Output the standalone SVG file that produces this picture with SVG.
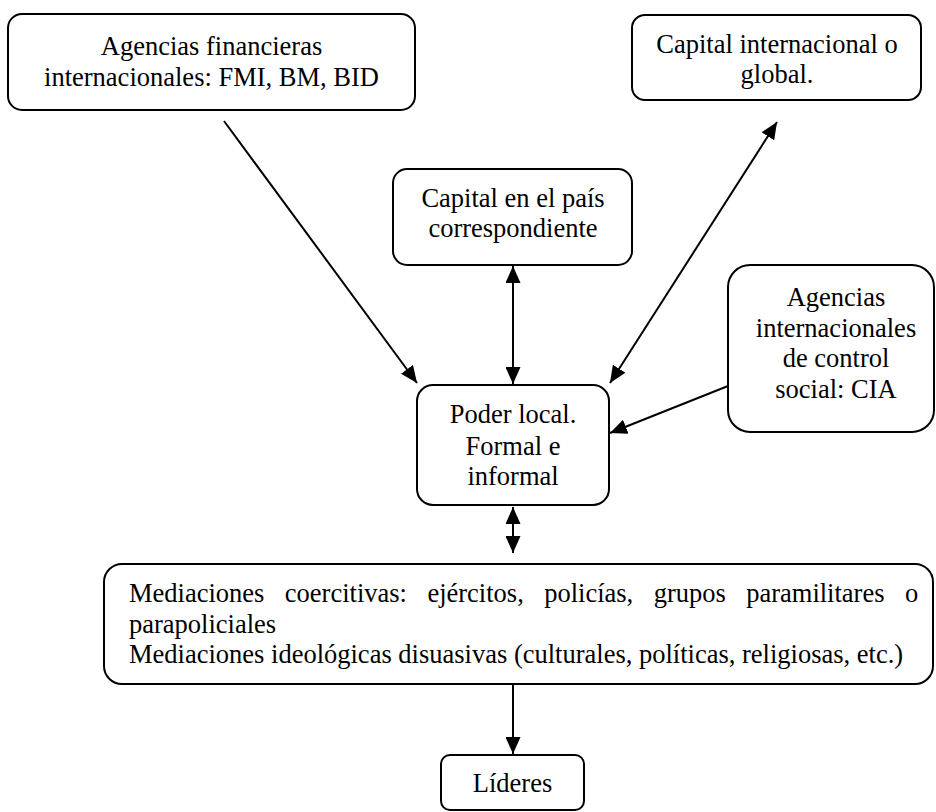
<svg xmlns="http://www.w3.org/2000/svg" width="936" height="812" viewBox="0 0 936 812">
<style>
.box{fill:#fff;stroke:#000;stroke-width:2}
.t{font-family:"Liberation Serif","Times New Roman",serif;font-size:26.5px;fill:#000}
.c{text-anchor:middle}
.ln{stroke:#000;stroke-width:2;fill:none}
</style>
<defs>
<marker id="ah" viewBox="0 0 17 15" refX="17" refY="7.5" markerWidth="17" markerHeight="15" markerUnits="userSpaceOnUse" orient="auto-start-reverse">
<path d="M0,0 L17,7.5 L0,15 Z" fill="#000"/>
</marker>
</defs>
<rect width="936" height="812" fill="#fff"/>
<g id="connectors">
<line class="ln" x1="224" y1="121" x2="417" y2="383" marker-end="url(#ah)"/>
<line class="ln" x1="610" y1="383" x2="777" y2="122" marker-start="url(#ah)" marker-end="url(#ah)"/>
<line class="ln" x1="513" y1="266" x2="513" y2="384" marker-start="url(#ah)" marker-end="url(#ah)"/>
<line class="ln" x1="728" y1="386" x2="610" y2="433" marker-end="url(#ah)"/>
<line class="ln" x1="513" y1="507" x2="513" y2="553" marker-start="url(#ah)" marker-end="url(#ah)"/>
<line class="ln" x1="513" y1="684" x2="513" y2="754" marker-end="url(#ah)"/>
</g>
<g id="agencias-financieras">
<rect class="box" x="8" y="14" width="407" height="96" rx="14"/>
<text class="t c" x="211.5" y="55">Agencias financieras</text>
<text class="t c" x="211.5" y="86">internacionales: FMI, BM, BID</text>
</g>
<g id="capital-internacional">
<rect class="box" x="632" y="15" width="289" height="85" rx="13"/>
<text class="t c" x="777" y="53">Capital internacional o</text>
<text class="t c" x="777" y="83">global.</text>
</g>
<g id="capital-pais">
<rect class="box" x="393" y="169" width="239" height="96" rx="14"/>
<text class="t c" x="513" y="207">Capital en el país</text>
<text class="t c" x="513" y="237">correspondiente</text>
</g>
<g id="poder-local">
<rect class="box" x="417" y="385" width="192" height="120" rx="16"/>
<text class="t c" x="513" y="423">Poder local.</text>
<text class="t c" x="513" y="455">Formal e</text>
<text class="t c" x="513" y="485">informal</text>
</g>
<g id="agencias-control">
<rect class="box" x="728" y="265" width="206" height="167" rx="22"/>
<text class="t c" x="836" y="306">Agencias</text>
<text class="t c" x="836" y="337">internacionales</text>
<text class="t c" x="836" y="367">de control</text>
<text class="t c" x="836" y="398">social: CIA</text>
</g>
<g id="mediaciones">
<rect class="box" x="104" y="564" width="829" height="120" rx="18"/>
<text class="t" y="602"><tspan x="129">Mediaciones</tspan><tspan x="284.8">coercitivas:</tspan><tspan x="427.4">ejércitos,</tspan><tspan x="544.2">policías,</tspan><tspan x="653.7">grupos</tspan><tspan x="746.2">paramilitares</tspan><tspan x="905">o</tspan></text>
<text class="t" x="129" y="633">parapoliciales</text>
<text class="t" x="129" y="663">Mediaciones ideológicas disuasivas (culturales, políticas, religiosas, etc.)</text>
</g>
<g id="lideres">
<rect class="box" x="441" y="755" width="143" height="55" rx="9"/>
<text class="t c" x="512.5" y="792">Líderes</text>
</g>
</svg>
